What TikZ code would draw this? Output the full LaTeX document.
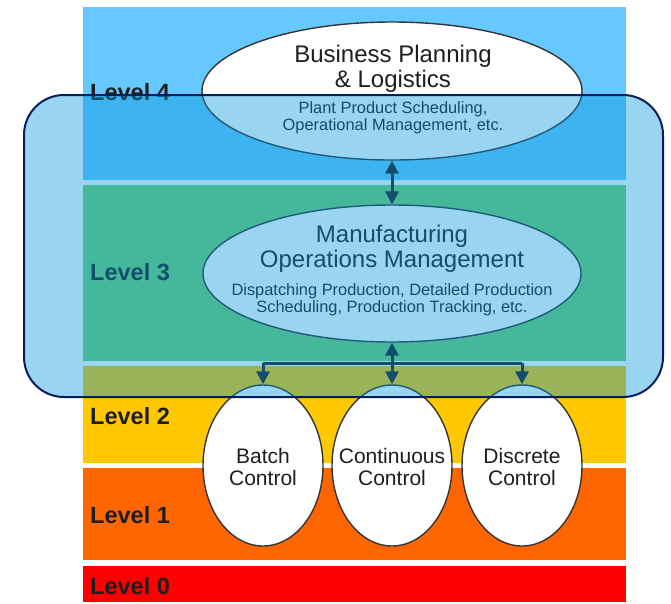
\documentclass[tikz,border=0pt]{standalone}
\usepackage{fontspec}
\setmainfont{Liberation Sans}
\usetikzlibrary{shapes.geometric,arrows.meta}
\definecolor{bandfour}{RGB}{102,200,255}
\definecolor{bandthree}{RGB}{115,207,112}
\definecolor{bandtwo}{RGB}{255,200,0}
\definecolor{bandone}{RGB}{255,102,0}
\definecolor{bandzero}{RGB}{255,0,0}
\definecolor{veil}{RGB}{0,150,222}
\definecolor{veilline}{RGB}{8,30,90}
\definecolor{ink}{RGB}{30,30,30}
\begin{document}
\begin{tikzpicture}[x=1pt,y=-1pt,
  levellabel/.style={anchor=base west, inner sep=0pt, text=ink, font=\fontsize{23.5}{23.5}\selectfont\bfseries},
  oval/.style={ellipse, draw=ink!90, line width=1.4pt, fill=white, inner sep=0pt},
  titletext/.style={anchor=base, inner sep=0pt, text=ink, font=\fontsize{24}{24}\selectfont},
  smalltext/.style={anchor=base, inner sep=0pt, text=ink, font=\fontsize{16.4}{16.4}\selectfont},
  ctrltext/.style={anchor=base, inner sep=0pt, text=ink, font=\fontsize{21}{21}\selectfont},
  link/.style={draw=ink, line width=3pt},
  tiparrow/.style={{Triangle[length=13pt,width=13pt]}-{Triangle[length=13pt,width=13pt]}},
  downarrow/.style={-{Triangle[length=13pt,width=13pt]}}
]
\useasboundingbox (0,0) rectangle (671,603);
\fill[white] (0,0) rectangle (671,603);

% level bands
\fill[bandfour]  (83,7)   rectangle (626,180);
\fill[bandthree] (83,185) rectangle (626,361);
\fill[bandtwo]   (83,366) rectangle (626,463);
\fill[bandone]   (83,468) rectangle (626,560);
\fill[bandzero]  (83,566) rectangle (626,602);

% level labels
\node[levellabel] (l4) at (90,100) {Level 4};
\node[levellabel] (l3) at (90,280) {Level 3};
\node[levellabel] (l2) at (90,424) {Level 2};
\node[levellabel] (l1) at (90,523) {Level 1};
\node[levellabel] (l0) at (90,594) {Level 0};

% ellipses
\node[oval, minimum width=380pt, minimum height=138pt] (bpl) at (392,91) {};
\node[oval, minimum width=378pt, minimum height=137pt] (mom) at (392,273.5) {};
\node[oval, minimum width=120pt, minimum height=161pt] (batch) at (263,465.5) {};
\node[oval, minimum width=120pt, minimum height=161pt] (cont) at (392,465.5) {};
\node[oval, minimum width=120pt, minimum height=161pt] (disc) at (522,465.5) {};

% texts
\node[titletext] (bplA) at (393,62) {Business Planning};
\node[titletext] (bplB) at (393,87) {\& Logistics};
\node[smalltext] (bplC) at (393,113) {Plant Product Scheduling,};
\node[smalltext] (bplD) at (393,130) {Operational Management, etc.};

\node[titletext] (momA) at (392,242) {Manufacturing};
\node[titletext] (momB) at (392,267) {Operations Management};
\node[smalltext] (momC) at (392,295) {Dispatching Production, Detailed Production};
\node[smalltext] (momD) at (392,312) {Scheduling, Production Tracking, etc.};

\node[ctrltext] (batchA) at (263,463) {Batch};
\node[ctrltext] (batchB) at (263,485) {Control};
\node[ctrltext] (contA) at (392,463) {Continuous};
\node[ctrltext] (contB) at (392,485) {Control};
\node[ctrltext] (discA) at (522,463) {Discrete};
\node[ctrltext] (discB) at (522,485) {Control};

% connectors
\coordinate (bar) at (392,363);
\draw[link, tiparrow] (bpl.south) -- (mom.north);
\draw[link, tiparrow] (mom.south) -- (cont.north);
\draw[link] (batch.north |- bar) -- (disc.north |- bar);
\draw[link, downarrow] (batch.north |- bar) -- (batch.north);
\draw[link, downarrow] (disc.north |- bar) -- (disc.north);

% translucent frame
\path[fill=veil, fill opacity=0.4, draw=veilline, line width=2pt, rounded corners=40pt]
  (24,95) rectangle (663,397);
\end{tikzpicture}
\end{document}
